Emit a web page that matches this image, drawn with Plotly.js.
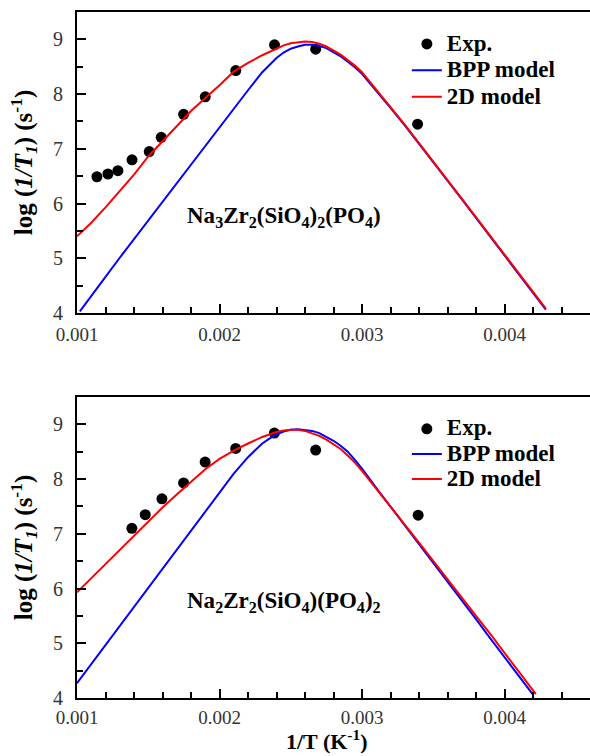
<!DOCTYPE html>
<html>
<head>
<meta charset="utf-8">
<script src="https://cdn.plot.ly/plotly-3.0.1.min.js"></script>
<style>html,body{margin:0;padding:0;background:#fff;}</style>
</head>
<body>
<div id="chart" style="width:590px;height:756px;"></div>
<script>
// ---------- Top panel: Na3Zr2(SiO4)2(PO4) ----------
const topExpX = [0.00114, 0.001217, 0.001287, 0.001386, 0.001507, 0.001591, 0.001748, 0.0019, 0.002114, 0.002386, 0.002675, 0.00339];
const topExpY = [6.49, 6.54, 6.60, 6.80, 6.95, 7.21, 7.63, 7.95, 8.43, 8.90, 8.82, 7.45];

const topBppX = [0.00102, 0.0011, 0.0012, 0.0013, 0.0014, 0.0015, 0.0016, 0.0017, 0.0018, 0.0019, 0.002, 0.0021, 0.0022, 0.0023, 0.00235, 0.0024, 0.00245, 0.0025, 0.00255, 0.0026, 0.00265, 0.0027, 0.00275, 0.0028, 0.00285, 0.0029, 0.00295, 0.003, 0.0031, 0.0032, 0.0033, 0.0034, 0.0035, 0.0036, 0.0037, 0.0038, 0.0039, 0.004, 0.0041, 0.0042, 0.00429];
const topBppY = [4.03, 4.32, 4.66, 5.01, 5.35, 5.70, 6.04, 6.38, 6.72, 7.07, 7.41, 7.75, 8.07, 8.40, 8.54, 8.66, 8.76, 8.83, 8.87, 8.90, 8.90, 8.88, 8.84, 8.77, 8.69, 8.59, 8.49, 8.37, 8.07, 7.75, 7.43, 7.10, 6.76, 6.42, 6.08, 5.74, 5.40, 5.06, 4.72, 4.38, 4.06];

const top2dX = [0.001, 0.0011, 0.0012, 0.0013, 0.0014, 0.0015, 0.0016, 0.0017, 0.0018, 0.0019, 0.002, 0.0021, 0.0022, 0.0023, 0.0024, 0.00245, 0.0025, 0.00255, 0.0026, 0.00265, 0.0027, 0.00275, 0.0028, 0.00285, 0.0029, 0.00295, 0.003, 0.0031, 0.0032, 0.0033, 0.0034, 0.0035, 0.0036, 0.0037, 0.0038, 0.0039, 0.004, 0.0041, 0.0042, 0.00429];
const top2dY = [5.40, 5.65, 5.93, 6.22, 6.53, 6.86, 7.14, 7.42, 7.69, 7.93, 8.16, 8.41, 8.57, 8.71, 8.84, 8.89, 8.93, 8.95, 8.96, 8.95, 8.92, 8.87, 8.80, 8.72, 8.62, 8.52, 8.40, 8.09, 7.76, 7.44, 7.11, 6.77, 6.43, 6.09, 5.75, 5.41, 5.07, 4.73, 4.39, 4.08];

// ---------- Bottom panel: Na2Zr2(SiO4)(PO4)2 ----------
const botExpX = [0.001385, 0.001479, 0.001596, 0.001748, 0.001899, 0.002114, 0.002385, 0.002675, 0.003394];
const botExpY = [7.10, 7.35, 7.64, 7.93, 8.31, 8.56, 8.84, 8.53, 7.34];

const botBppX = [0.001, 0.0011, 0.0012, 0.0013, 0.0014, 0.0015, 0.0016, 0.0017, 0.0018, 0.0019, 0.002, 0.0021, 0.0022, 0.0023, 0.00235, 0.0024, 0.00245, 0.0025, 0.00255, 0.0026, 0.00265, 0.0027, 0.00275, 0.0028, 0.00285, 0.0029, 0.00295, 0.003, 0.0031, 0.0032, 0.0033, 0.0034, 0.0035, 0.0036, 0.0037, 0.0038, 0.0039, 0.004, 0.0041, 0.0042];
const botBppY = [4.27, 4.62, 4.97, 5.32, 5.67, 6.02, 6.37, 6.72, 7.07, 7.42, 7.77, 8.10, 8.40, 8.65, 8.74, 8.82, 8.87, 8.90, 8.91, 8.90, 8.88, 8.84, 8.77, 8.70, 8.61, 8.50, 8.35, 8.19, 7.84, 7.50, 7.16, 6.81, 6.47, 6.12, 5.78, 5.44, 5.09, 4.75, 4.40, 4.06];

const bot2dX = [0.001, 0.0011, 0.0012, 0.0013, 0.0014, 0.0015, 0.0016, 0.0017, 0.0018, 0.0019, 0.002, 0.0021, 0.0022, 0.0023, 0.0024, 0.00245, 0.0025, 0.00255, 0.0026, 0.00265, 0.0027, 0.00275, 0.0028, 0.00285, 0.0029, 0.00295, 0.003, 0.0031, 0.0032, 0.0033, 0.0034, 0.0035, 0.0036, 0.0037, 0.0038, 0.0039, 0.004, 0.0041, 0.0042, 0.00422];
const bot2dY = [5.93, 6.19, 6.45, 6.71, 6.97, 7.22, 7.48, 7.72, 7.95, 8.18, 8.37, 8.52, 8.65, 8.77, 8.86, 8.89, 8.90, 8.90, 8.88, 8.84, 8.79, 8.72, 8.64, 8.55, 8.43, 8.30, 8.15, 7.83, 7.50, 7.17, 6.84, 6.50, 6.17, 5.84, 5.50, 5.17, 4.83, 4.49, 4.14, 4.07];

// ---------- Text ----------
const seriesNames = ['Exp.', 'BPP model', '2D model'];
const topLabel = '<b>Na<sub>3</sub>Zr<sub>2</sub>(SiO<sub>4</sub>)<sub>2</sub>(PO<sub>4</sub>)</b>';
const botLabel = '<b>Na<sub>2</sub>Zr<sub>2</sub>(SiO<sub>4</sub>)(PO<sub>4</sub>)<sub>2</sub></b>';
const yTitle = '<b>log (<i>1/T<sub>1</sub></i>) (s<sup>-1</sup>)</b>';
const xTitle = '<b>1/T (K<sup>-1</sup>)</b>';

const FONT = 'Liberation Serif';
const legName = n => '<span style="font-size:23px"><b>' + n + '</b></span>';

function makeTraces(xa, ya, leg, ex, ey, bx, by, dx, dy) {
  return [
    {x: ex, y: ey, xaxis: xa, yaxis: ya, legend: leg, type: 'scatter', mode: 'markers', name: legName(seriesNames[0]),
     marker: {color: '#000', size: 11}},
    {x: bx, y: by, xaxis: xa, yaxis: ya, legend: leg, type: 'scatter', mode: 'lines', name: legName(seriesNames[1]),
     line: {color: '#0000ff', width: 2}},
    {x: dx, y: dy, xaxis: xa, yaxis: ya, legend: leg, type: 'scatter', mode: 'lines', name: legName(seriesNames[2]),
     line: {color: '#ff0000', width: 2}}
  ];
}

const data = [].concat(
  makeTraces('x', 'y', 'legend', topExpX, topExpY, topBppX, topBppY, top2dX, top2dY),
  makeTraces('x2', 'y2', 'legend2', botExpX, botExpY, botBppX, botBppY, bot2dX, bot2dY)
);

const xCommon = {
  range: [0.001, 0.0046], tick0: 0.001, dtick: 0.001, tickformat: '.3f',
  showline: true, linewidth: 2, linecolor: '#000', mirror: true,
  ticks: 'inside', ticklen: 9, tickwidth: 2, tickcolor: '#000',
  minor: {dtick: 0.0002, ticks: 'inside', ticklen: 6, tickwidth: 2, tickcolor: '#000'},
  showgrid: false, zeroline: false, ticklabelstandoff: 3,
  tickfont: {family: FONT, size: 19, color: '#333'}
};
const yCommon = {
  range: [4, 9.5], tick0: 4, dtick: 1,
  showline: true, linewidth: 2, linecolor: '#000', mirror: false,
  ticks: 'inside', ticklen: 9, tickwidth: 2, tickcolor: '#000',
  minor: {dtick: 0.5, ticks: 'inside', ticklen: 6, tickwidth: 2, tickcolor: '#000'},
  showgrid: false, zeroline: false, ticklabelstandoff: 8,
  tickfont: {family: FONT, size: 20, color: '#333'},
  title: {text: yTitle, font: {family: FONT, size: 25, color: '#000'}, standoff: 13}
};
const legCommon = {
  xanchor: 'left', yanchor: 'top', x: 0.643, bgcolor: 'rgba(0,0,0,0)',
  font: {family: FONT, size: 18, color: '#000'}, itemclick: false
};

const layout = {
  width: 590, height: 756,
  margin: {l: 77, r: 0, t: 12, b: 58},
  paper_bgcolor: '#fff', plot_bgcolor: '#fff',
  font: {family: FONT, color: '#000'},
  showlegend: true,
  xaxis: Object.assign({}, xCommon, {anchor: 'y', domain: [0, 1]}),
  yaxis: Object.assign({}, yCommon, {anchor: 'x', domain: [0.5612, 1]}),
  xaxis2: Object.assign({}, xCommon, {anchor: 'y2', domain: [0, 1], ticklabelstandoff: 1}),
  yaxis2: Object.assign({}, yCommon, {anchor: 'x2', domain: [0, 0.4388]}),
  legend: Object.assign({}, legCommon, {y: 0.98}),
  legend2: Object.assign({}, legCommon, {y: 0.418, font: {family: FONT, size: 17, color: '#000'}}),
  annotations: [
    {xref: 'x', yref: 'y', x: 0.001759, y: 5.76, xanchor: 'left', yanchor: 'middle', showarrow: false,
     text: topLabel, font: {family: FONT, size: 23, color: '#000'}},
    {xref: 'x2', yref: 'y2', x: 0.001759, y: 5.76, xanchor: 'left', yanchor: 'middle', showarrow: false,
     text: botLabel, font: {family: FONT, size: 23, color: '#000'}},
    {xref: 'paper', yref: 'paper', x: 0.4854, y: -0.0845, xanchor: 'center', yanchor: 'bottom', showarrow: false,
     text: xTitle, font: {family: FONT, size: 22, color: '#000'}}
  ]
};

Plotly.newPlot('chart', data, layout, {displayModeBar: false, staticPlot: true});
</script>
</body>
</html>
